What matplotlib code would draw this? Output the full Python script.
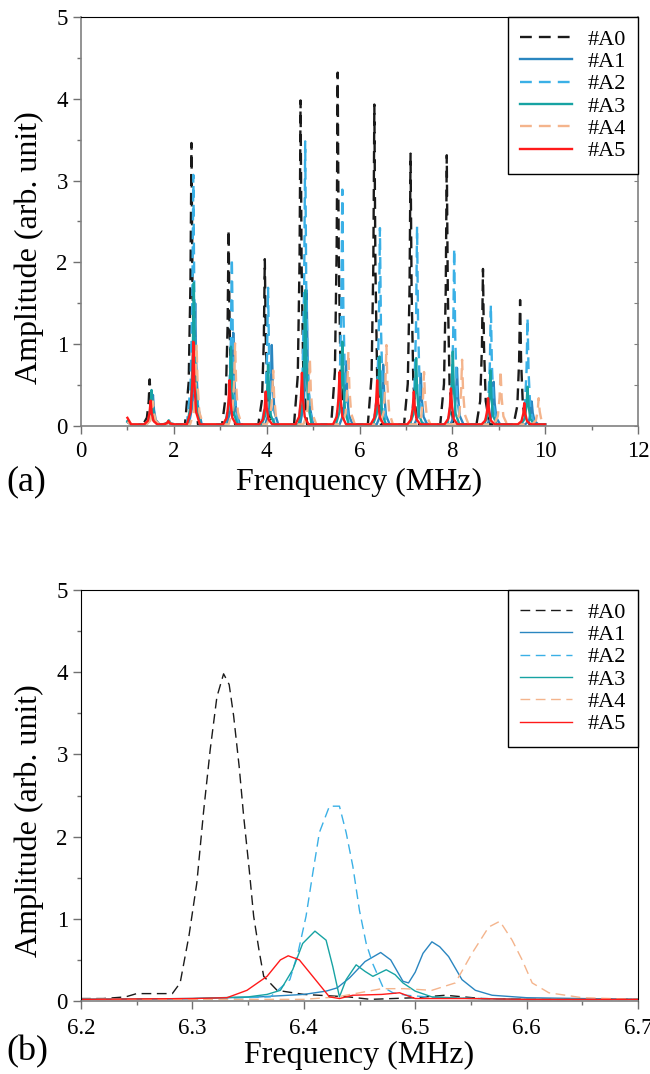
import numpy as np
import matplotlib
matplotlib.use("Agg")
import matplotlib.pyplot as plt
from matplotlib.ticker import MultipleLocator

plt.rcParams['font.family'] = ['Liberation Serif', 'DejaVu Serif']
plt.rcParams['mathtext.fontset'] = 'stix'

labels = ['#A0', '#A1', '#A2', '#A3', '#A4', '#A5']
colors = ['#1a1a1a', '#2a86c0', '#3ab0e6', '#17a3a3', '#f4b48c', '#ff1a1a']
styles = ['--', '-', '--', '-', '--', '-']

# ---- panel (a): peak centres (MHz) and heights
a_start = [0.05, 0.05, 0.05, 0.06, 0.05, 0.10]
a_A0_f = [1.48, 1.88, 2.38, 3.18, 3.96, 4.73, 5.53, 6.32, 7.10, 7.88, 8.66, 9.46]
a_A0_h = [0.57, 0.05, 3.46, 2.40, 2.04, 3.98, 4.32, 3.93, 3.33, 3.31, 1.92, 1.54]
a_A1_f = [1.55, 1.90, 2.46, 3.28, 4.11, 4.86, 5.71, 6.51, 7.32, 8.10, 8.89, 9.71]
a_A1_h = [0.38, 0.06, 1.50, 1.14, 0.99, 1.66, 0.79, 0.75, 0.64, 0.71, 0.54, 0.30]
a_A2_f = [1.52, 1.89, 2.42, 3.25, 4.03, 4.83, 5.63, 6.44, 7.24, 8.04, 8.83, 9.62]
a_A2_h = [0.42, 0.05, 3.07, 2.05, 1.69, 3.48, 2.89, 2.42, 2.44, 2.17, 1.48, 1.32]
a_A3_f = [1.52, 1.89, 2.43, 3.23, 4.03, 4.83, 5.63, 6.43, 7.22, 8.01, 8.82, 9.62]
a_A3_h = [0.44, 0.07, 1.75, 0.97, 0.75, 1.66, 1.03, 0.85, 0.83, 0.91, 0.68, 0.48]
a_A4_f = [1.55, 1.90, 2.49, 3.32, 4.14, 4.93, 5.76, 6.58, 7.39, 8.21, 9.04, 9.86]
a_A4_h = [0.30, 0.05, 1.00, 1.01, 0.68, 0.83, 0.91, 0.99, 0.66, 0.81, 0.68, 0.34]
a_A5_f = [1.50, 1.88, 2.42, 3.20, 3.98, 4.76, 5.57, 6.38, 7.17, 7.97, 8.77, 9.55]
a_A5_h = [0.31, 0.06, 1.03, 0.56, 0.42, 0.65, 0.66, 0.56, 0.42, 0.46, 0.34, 0.28]

a_f = [a_A0_f, a_A1_f, a_A2_f, a_A3_f, a_A4_f, a_A5_f]
a_h = [a_A0_h, a_A1_h, a_A2_h, a_A3_h, a_A4_h, a_A5_h]

# ---- panel (b): zoom on the 6.3-6.6 MHz group
b_A0_x = [6.20, 6.22, 6.24, 6.25, 6.282, 6.289, 6.297, 6.304, 6.31, 6.316, 6.322, 6.328,
          6.333, 6.337, 6.342, 6.346, 6.351, 6.355, 6.36, 6.364, 6.376, 6.40, 6.44,
          6.46, 6.50, 6.527, 6.56, 6.60, 6.65, 6.70]
b_A0_y = [0.03, 0.03, 0.05, 0.09, 0.09, 0.22, 0.80, 1.44, 2.30, 3.06, 3.70, 3.98,
          3.85, 3.47, 2.85, 2.25, 1.60, 1.03, 0.60, 0.30, 0.13, 0.08, 0.05,
          0.02, 0.04, 0.07, 0.03, 0.02, 0.02, 0.02]
b_A1_x = [6.20, 6.30, 6.36, 6.40, 6.42, 6.43, 6.441, 6.455, 6.469, 6.478, 6.489, 6.494,
          6.50, 6.507, 6.515, 6.522, 6.530, 6.542, 6.554, 6.569, 6.60, 6.65, 6.70]
b_A1_y = [0.02, 0.03, 0.05, 0.08, 0.12, 0.16, 0.28, 0.48, 0.59, 0.50, 0.24, 0.22,
          0.35, 0.58, 0.72, 0.66, 0.54, 0.26, 0.13, 0.07, 0.04, 0.03, 0.02]
b_A2_x = [6.20, 6.30, 6.37, 6.3875, 6.395, 6.402, 6.408, 6.414, 6.423, 6.432, 6.438,
          6.444, 6.45, 6.456, 6.462, 6.471, 6.48, 6.492, 6.52, 6.56, 6.60, 6.70]
b_A2_y = [0.02, 0.02, 0.05, 0.26, 0.60, 1.03, 1.55, 2.05, 2.37, 2.37, 2.05,
          1.64, 1.10, 0.70, 0.45, 0.17, 0.10, 0.07, 0.04, 0.03, 0.02, 0.02]
b_A3_x = [6.20, 6.30, 6.35, 6.367, 6.379, 6.39, 6.399, 6.41, 6.42, 6.426, 6.432, 6.438,
          6.447, 6.455, 6.462, 6.474, 6.482, 6.489, 6.50, 6.515, 6.55, 6.60, 6.70]
b_A3_y = [0.02, 0.03, 0.05, 0.08, 0.13, 0.38, 0.70, 0.85, 0.74, 0.42, 0.05, 0.26,
          0.44, 0.36, 0.30, 0.38, 0.32, 0.22, 0.12, 0.05, 0.03, 0.02, 0.02]
b_A4_x = [6.20, 6.40, 6.43, 6.45, 6.47, 6.49, 6.515, 6.536, 6.551, 6.566, 6.576, 6.587,
          6.596, 6.605, 6.62, 6.65, 6.70]
b_A4_y = [0.02, 0.02, 0.05, 0.10, 0.15, 0.15, 0.13, 0.22, 0.58, 0.90, 0.97, 0.74,
          0.50, 0.22, 0.10, 0.04, 0.02]
b_A5_x = [6.20, 6.30, 6.331, 6.349, 6.367, 6.379, 6.386, 6.396, 6.408, 6.423, 6.432,
          6.444, 6.47, 6.486, 6.50, 6.55, 6.60, 6.70]
b_A5_y = [0.02, 0.03, 0.04, 0.13, 0.30, 0.50, 0.55, 0.50, 0.30, 0.05, 0.03,
          0.07, 0.08, 0.10, 0.03, 0.03, 0.02, 0.02]

b_x = [b_A0_x, b_A1_x, b_A2_x, b_A3_x, b_A4_x, b_A5_x]
b_y = [b_A0_y, b_A1_y, b_A2_y, b_A3_y, b_A4_y, b_A5_y]

# narrow peak outline (offset in MHz, fraction of height)
shape_dx = [-0.14, -0.06, -0.022, 0.0, 0.022, 0.06, 0.14]
shape_fr = [0.0, 0.15, 0.5, 1.0, 0.5, 0.15, 0.0]


def spectrum(freqs, heights, start, base=0.02):
    xs, ys = [1.0, 1.08], [start, base]
    for f, h in zip(freqs, heights):
        for dx, fr in zip(shape_dx, shape_fr):
            xs.append(f + dx)
            ys.append(base + (h - base) * fr)
    xs.append(10.0)
    ys.append(base)
    return xs, ys


fig = plt.figure(figsize=(6.5, 10.74), dpi=100)
W, H = 650, 1074
ax1 = fig.add_axes([81 / W, 1 - 426 / H, 557 / W, 409 / H])
ax2 = fig.add_axes([81 / W, 1 - 1001 / H, 557 / W, 411 / H])

for i in range(6):
    xs, ys = spectrum(a_f[i], a_h[i], a_start[i])
    ls_a = (0, (5, 3)) if styles[i] == '--' else '-'
    ls_b = (0, (7, 4)) if styles[i] == '--' else '-'
    ax1.plot(xs, ys, linestyle=ls_a, color=colors[i], lw=1.7, label=labels[i])
    ax2.plot(b_x[i], b_y[i], linestyle=ls_b, color=colors[i], lw=1.0, label=labels[i])

ax1.set_xlim(0, 12)
ax1.set_ylim(0, 5)
ax1.xaxis.set_major_locator(MultipleLocator(2))
ax1.xaxis.set_minor_locator(MultipleLocator(1))
ax2.set_xlim(6.2, 6.7)
ax2.set_ylim(0, 5)
ax2.set_xticks([6.2, 6.3, 6.4, 6.5, 6.6, 6.7])
ax2.set_xticklabels(['6.2', '6.3', '6.4', '6.5', '6.6', '6.7'])
ax2.xaxis.set_minor_locator(MultipleLocator(0.05))

for ax in (ax1, ax2):
    ax.yaxis.set_major_locator(MultipleLocator(1))
    ax.yaxis.set_minor_locator(MultipleLocator(0.5))
    ax.tick_params(which='major', direction='out', length=5.5, width=1, labelsize=16.5,
                   pad=4, color='#707070')
    ax.tick_params(which='minor', direction='out', length=3, width=1, color='#707070')
    leg = ax.legend(loc='upper right', borderaxespad=0, fontsize=16, fancybox=False,
                    edgecolor='black', handlelength=2.35, handletextpad=0.68,
                    labelspacing=0.08, borderpad=0.55, framealpha=1)
    leg.get_frame().set_linewidth(1.0)
    ax.spines['top'].set_color('black')

ax1.tick_params(axis='x', pad=5)
ax2.tick_params(axis='x', pad=7)

for s in ('left', 'bottom', 'right'):
    ax1.spines[s].set_color('#808080')
    ax1.spines[s].set_linewidth(1.2)
ax2.spines['bottom'].set_color('#808080')
ax2.spines['bottom'].set_linewidth(1.2)

# inward ticks on the right spine of panel (a)
sec = ax1.secondary_yaxis('right')
sec.yaxis.set_major_locator(MultipleLocator(0.5))
sec.tick_params(direction='in', length=3, color='#808080', labelright=False)
sec.spines['right'].set_visible(False)

ax1.set_xlabel('Frenquency (MHz)', fontsize=23)
ax1.xaxis.set_label_coords(0.5, -0.139)
ax1.xaxis.label.set_va('center')
ax1.set_ylabel('Amplitude (arb. unit)', fontsize=23)
ax1.yaxis.set_label_coords(-0.093, 0.435)
ax1.yaxis.label.set_va('center')

ax2.set_xlabel('Frequency (MHz)', fontsize=23)
ax2.xaxis.set_label_coords(0.5, -0.132)
ax2.xaxis.label.set_va('center')
ax2.set_ylabel('Amplitude (arb. unit)', fontsize=23)
ax2.yaxis.set_label_coords(-0.093, 0.44)
ax2.yaxis.label.set_va('center')

fig.text(6 / W, 1 - 482 / H, '(a)', fontsize=26, va='center', ha='left')
fig.text(6 / W, 1 - 1052 / H, '(b)', fontsize=26, va='center', ha='left')

fig.savefig('out.png', dpi=100)
